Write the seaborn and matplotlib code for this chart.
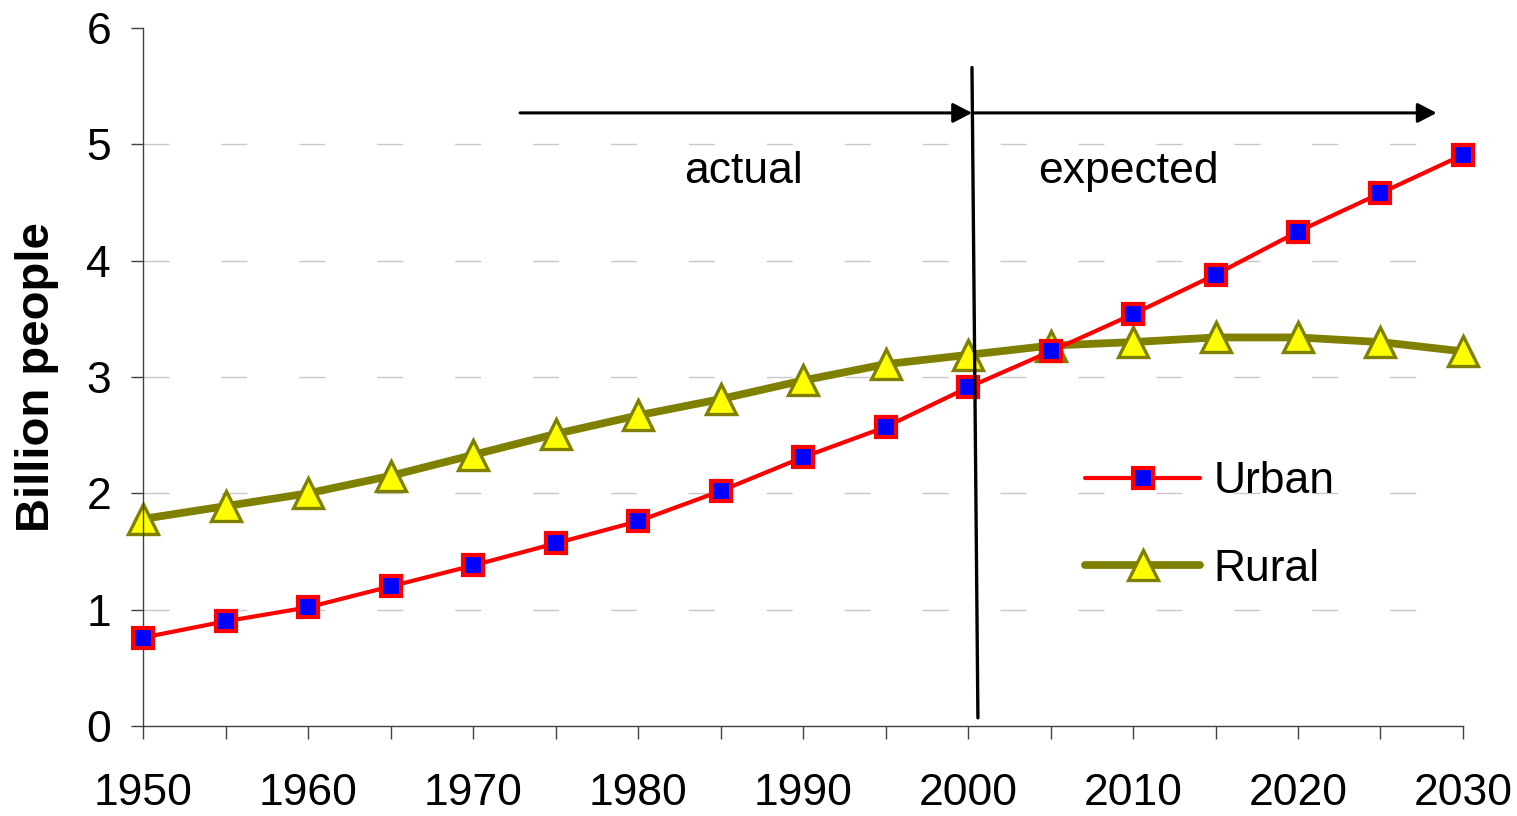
import matplotlib
matplotlib.use("Agg")
import matplotlib.pyplot as plt
import seaborn as sns
import pandas as pd

years = [1950, 1955, 1960, 1965, 1970, 1975, 1980, 1985, 1990, 1995,
         2000, 2005, 2010, 2015, 2020, 2025, 2030]
urban = [0.76, 0.90, 1.02, 1.20, 1.38, 1.57, 1.76, 2.02, 2.31, 2.57,
         2.91, 3.22, 3.54, 3.88, 4.25, 4.58, 4.91]
rural = [1.78, 1.89, 2.00, 2.15, 2.33, 2.51, 2.67, 2.81, 2.97, 3.11,
         3.19, 3.27, 3.30, 3.34, 3.34, 3.30, 3.22]
x_tick_labels = ["1950", "", "1960", "", "1970", "", "1980", "", "1990", "",
                 "2000", "", "2010", "", "2020", "", "2030"]
y_ticks = [0, 1, 2, 3, 4, 5, 6]
period_labels = ["actual", "expected"]

df = pd.DataFrame({"year": years, "Urban": urban, "Rural": rural})

sns.set_style("white")
plt.rcParams["font.family"] = ["Liberation Sans", "DejaVu Sans"]
plt.rcParams["text.color"] = "black"
plt.rcParams["xtick.color"] = "black"
plt.rcParams["ytick.color"] = "black"
plt.rcParams["axes.labelcolor"] = "black"

fig = plt.figure(figsize=(15.17, 8.16), dpi=100)
ax = fig.add_axes([0.0943, 0.1103, 0.8701, 0.8554])

# dashed horizontal guides
for yv in y_ticks[1:-1]:
    ax.axhline(yv, color="#c8c8c8", lw=1, ls=(0, (18.7, 37.4)), zorder=0)

sns.lineplot(data=df, x="year", y="Urban", ax=ax, color="#ff0000",
             marker="s", markersize=15,
             markerfacecolor="#0000ff", markeredgecolor="#ff0000",
             markeredgewidth=3, label="Urban", zorder=3, clip_on=False)
sns.lineplot(data=df, x="year", y="Rural", ax=ax, color="#808000",
             marker="^", markersize=21,
             markerfacecolor="#ffff00", markeredgecolor="#808000",
             markeredgewidth=2.4, label="Rural", zorder=2, clip_on=False)

# line weights
ax.lines[-2].set_linewidth(3.0)
ax.lines[-1].set_linewidth(5.6)

ax.set_xlim(1950, 2030)
ax.set_ylim(0, 6)
ax.set_xticks(years)
ax.set_xticklabels(x_tick_labels)
ax.set_yticks(y_ticks)
ax.tick_params(axis="x", direction="out", length=9, width=1, color="#404040",
               labelsize=32, pad=25, bottom=True)
ax.tick_params(axis="y", direction="out", length=9, width=1, color="#404040",
               labelsize=32, pad=14, left=True)
for side in ("top", "right"):
    ax.spines[side].set_visible(False)
for side in ("left", "bottom"):
    ax.spines[side].set_color("#404040")
    ax.spines[side].set_linewidth(1)
ax.set_xlabel("")
ax.set_ylabel("Billion people", fontsize=34, fontweight="bold", labelpad=20)

# actual / expected divider and arrows
ax.plot([2000.24, 2000.6], [5.66, 0.07], color="black", lw=2.4,
        clip_on=False, zorder=4)
arrow_style = "-|>,head_length=1.15,head_width=0.6"
ax.annotate("", xy=(2000.24, 5.27), xytext=(1972.85, 5.27),
            arrowprops=dict(arrowstyle=arrow_style, color="black", lw=2.2,
                            shrinkA=0, shrinkB=0))
ax.annotate("", xy=(2028.4, 5.27), xytext=(2000.24, 5.27),
            arrowprops=dict(arrowstyle=arrow_style, color="black", lw=2.2,
                            shrinkA=0, shrinkB=0))
ax.text(1986.4, 4.77, period_labels[0], fontsize=32, ha="center", va="center")
ax.text(2009.7, 4.77, period_labels[1], fontsize=32, ha="center", va="center")

leg = ax.legend(loc="upper left", bbox_to_anchor=(0.70, 0.405),
                frameon=False, fontsize=32, handlelength=2.6,
                handletextpad=0.3, labelspacing=1.05, borderaxespad=0)
for t in leg.get_texts():
    t.set_color("black")
leg.get_lines()[0].set_linewidth(3.0)
leg.get_lines()[1].set_linewidth(5.6)

fig.savefig("out.png", dpi=100, facecolor="white")
